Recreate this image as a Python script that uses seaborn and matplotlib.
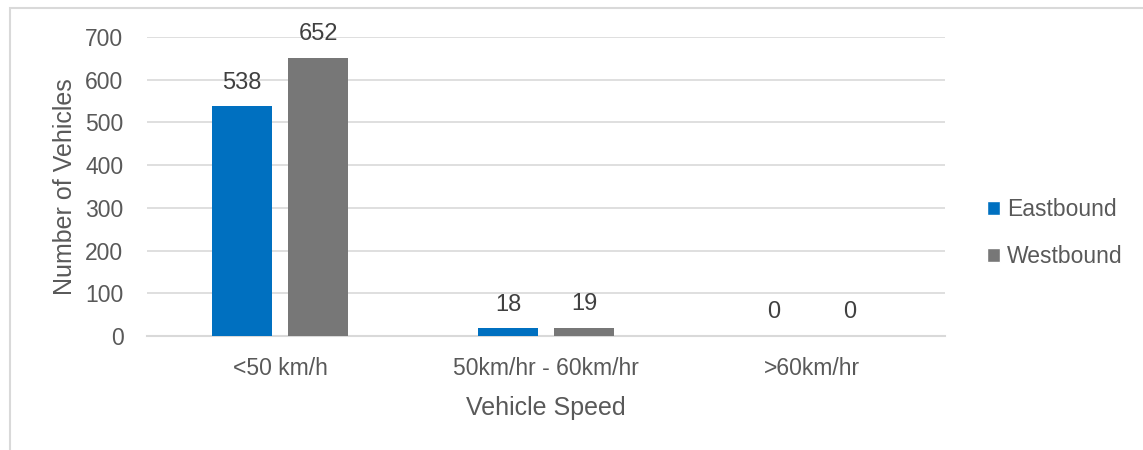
import matplotlib
matplotlib.use('Agg')
import matplotlib.pyplot as plt
import seaborn as sns
import pandas as pd
from matplotlib.patches import Rectangle, Patch

# data
speeds = ['<50 km/h', '50km/hr - 60km/hr', '>60km/hr']
eastbound = [538, 18, 0]
westbound = [652, 19, 0]
directions = ['Eastbound', 'Westbound']
colors = ['#0070C0', '#777777']

df = pd.DataFrame({
    'speed': speeds * 2,
    'count': eastbound + westbound,
    'direction': [directions[0]] * 3 + [directions[1]] * 3,
})

sns.set_theme(style='white')
plt.rcParams['font.family'] = ['Liberation Sans', 'DejaVu Sans']
text_col = '#595959'
grid_col = '#d9d9d9'

fig = plt.figure(figsize=(11.43, 4.5), dpi=100)
ax = fig.add_axes([147 / 1143, 1 - 336 / 450, (945 - 147) / 1143, (336 - 37) / 450])

sns.barplot(data=df, x='speed', y='count', hue='direction', palette=colors,
            width=0.573, gap=0.21, saturation=1, linewidth=0,
            ax=ax, legend=False, zorder=3)

ax.set_ylim(0, 700)
ax.set_xlim(-0.5, 2.5)
ax.set_yticks(range(0, 701, 100))
ax.yaxis.grid(True, color=grid_col, lw=1.2, zorder=0)
ax.set_axisbelow(True)
for s in ['top', 'right', 'left']:
    ax.spines[s].set_visible(False)
ax.spines['bottom'].set_color(grid_col)
ax.spines['bottom'].set_linewidth(1.5)
ax.tick_params(axis='both', length=0, labelsize=16.5, colors=text_col)
ax.tick_params(axis='y', pad=17)
ax.tick_params(axis='x', pad=15)
ax.set_xlabel('Vehicle Speed', fontsize=18, color=text_col, labelpad=12)
ax.set_ylabel('Number of Vehicles', fontsize=18, color=text_col, labelpad=6)

for cont in ax.containers:
    ax.bar_label(cont, padding=9, fontsize=17, color='#404040')

handles = [Patch(facecolor=c, label=d) for c, d in zip(colors, directions)]
leg = fig.legend(handles=handles, loc='center left', bbox_to_anchor=(966 / 1143, 1 - 233 / 450),
                 frameon=False, fontsize=16.5, handlelength=0.6, handleheight=0.6,
                 handletextpad=0.3, labelspacing=1.05, labelcolor=text_col)

# light frame around the chart area
fig.patches.append(Rectangle((10 / 1143, -0.1), 1.2, 0.1 + 1 - 8 / 450, transform=fig.transFigure,
                             fill=False, edgecolor=grid_col, lw=1.5))

fig.savefig('out.png', dpi=100)
